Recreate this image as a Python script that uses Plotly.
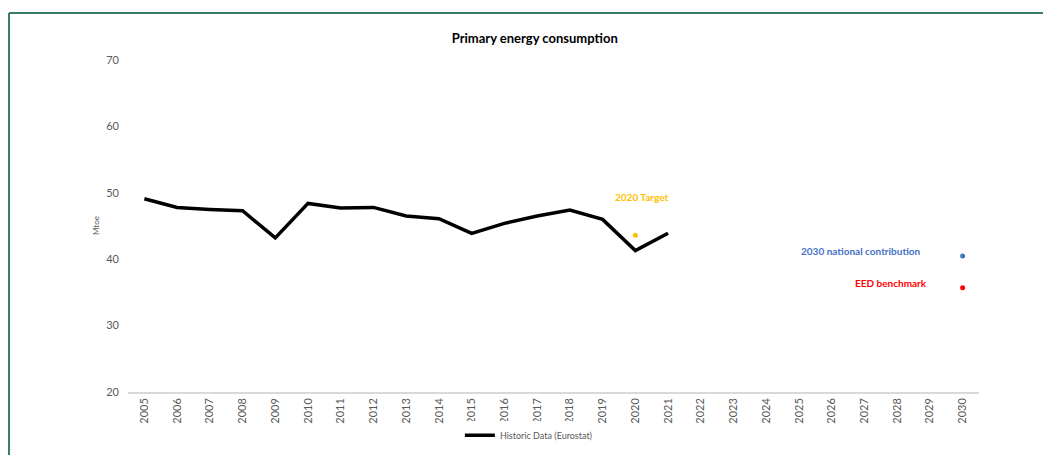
import plotly.graph_objects as go

# Данные
years = [str(y) for y in range(2005, 2031)]
hist_years = [str(y) for y in range(2005, 2022)]
hist_values = [49.1, 47.8, 47.5, 47.3, 43.2, 48.4, 47.7, 47.8, 46.5, 46.1,
               43.9, 45.4, 46.5, 47.4, 46.0, 41.3, 43.9]
target_2020_year = ["2020"]
target_2020_value = [43.6]
national_2030_year = ["2030"]
national_2030_value = [40.5]
eed_2030_year = ["2030"]
eed_2030_value = [35.7]

grey = '#595959'

fig = go.Figure()

# Исторические данные
fig.add_trace(go.Scatter(x=hist_years, y=hist_values, mode='lines', name='Historic Data (Eurostat)',
                         line=dict(color='black', width=3.5)))
# Цели
fig.add_trace(go.Scatter(x=target_2020_year, y=target_2020_value, mode='markers', showlegend=False,
                         marker=dict(color='#FFC000', size=5)))
fig.add_trace(go.Scatter(x=national_2030_year, y=national_2030_value, mode='markers', showlegend=False,
                         marker=dict(color='#4472C4', size=5)))
fig.add_trace(go.Scatter(x=eed_2030_year, y=eed_2030_value, mode='markers', showlegend=False,
                         marker=dict(color='#FF0000', size=5)))

lbl_font = dict(family='Lato', size=10)
fig.add_annotation(x=15.2, y=49.3, text='<b>2020 Target</b>', showarrow=False,
                   font=dict(lbl_font, color='#FFC000'))
fig.add_annotation(x=21.9, y=41.2, text='<b>2030 national contribution</b>', showarrow=False,
                   font=dict(lbl_font, color='#4472C4'))
fig.add_annotation(x=22.8, y=36.4, text='<b>EED benchmark</b>', showarrow=False,
                   font=dict(lbl_font, color='#FF0000'))
fig.add_annotation(xref='paper', x=-0.0376, xanchor='center', y=45, text='Mtoe', textangle=-90,
                   showarrow=False, font=dict(family='Lato', size=8, color=grey))

# Рамка
frame = '#3b7a6a'
fig.add_shape(type='line', xref='paper', yref='paper', x0=-0.1398, x1=1.1, y0=1.1412, y1=1.1412,
              line=dict(color=frame, width=2))
fig.add_shape(type='line', xref='paper', yref='paper', x0=-0.1398, x1=-0.1398, y0=1.1412, y1=-0.19,
              line=dict(color=frame, width=2))

fig.update_layout(
    width=1043,
    height=454,
    margin=dict(l=120, r=72, t=52, b=55),
    plot_bgcolor='white',
    paper_bgcolor='white',
    font=dict(family='Lato', color=grey),
    title=dict(text='<b>Primary energy consumption</b>', x=0.505, xanchor='center', y=0.934, yanchor='middle',
               font=dict(family='Lato', size=13, color='black')),
    showlegend=True,
    legend=dict(orientation='h', x=0.39, xanchor='left', y=-0.13, yanchor='middle',
                font=dict(size=9, color=grey), itemwidth=30),
)
fig.update_xaxes(type='category', categoryorder='array', categoryarray=years, range=[-0.5, 25.5],
                 tickangle=-90, tickfont=dict(size=11, color=grey), showgrid=False, showline=True,
                 linecolor='#d9d9d9', linewidth=1.5, ticks='', zeroline=False)
fig.update_yaxes(range=[20, 70], dtick=10, showgrid=False, zeroline=False, showline=False,
                 tickfont=dict(size=11, color=grey), ticklabelstandoff=8)

fig.write_html("out.html")
